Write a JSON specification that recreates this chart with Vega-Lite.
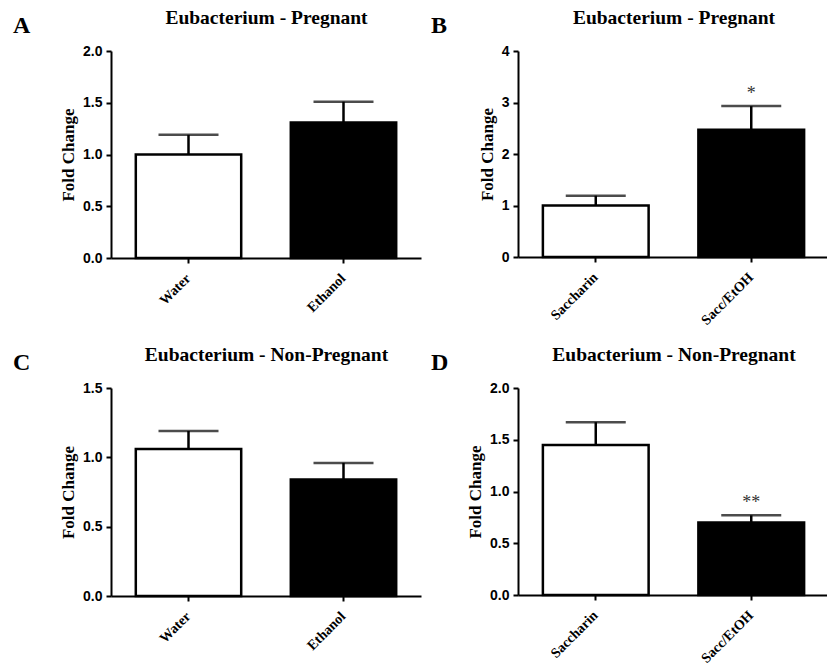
{
  "$schema": "https://vega.github.io/schema/vega-lite/v6.json",
  "background": "white",
  "padding": {"left": 13, "top": 7, "right": 0, "bottom": 0},
  "bounds": "flush",
  "columns": 2,
  "spacing": {"row": 130, "column": 97},
  "datasets": {
    "d": [
      {"panel": "A", "group": "Water", "cond": "control", "value": 1.00, "upper": 1.19, "sig": ""},
      {"panel": "A", "group": "Ethanol", "cond": "treatment", "value": 1.31, "upper": 1.51, "sig": ""},
      {"panel": "B", "group": "Saccharin", "cond": "control", "value": 1.00, "upper": 1.19, "sig": ""},
      {"panel": "B", "group": "Sacc/EtOH", "cond": "treatment", "value": 2.47, "upper": 2.93, "sig": "*"},
      {"panel": "C", "group": "Water", "cond": "control", "value": 1.06, "upper": 1.19, "sig": ""},
      {"panel": "C", "group": "Ethanol", "cond": "treatment", "value": 0.84, "upper": 0.96, "sig": ""},
      {"panel": "D", "group": "Saccharin", "cond": "control", "value": 1.45, "upper": 1.67, "sig": ""},
      {"panel": "D", "group": "Sacc/EtOH", "cond": "treatment", "value": 0.70, "upper": 0.77, "sig": "**"}
    ]
  },
  "config": {
    "view": {"stroke": null},
    "title": {"font": "Liberation Serif", "fontSize": 24, "fontWeight": "bold", "color": "black", "offset": 0, "anchor": "start", "frame": "group", "baseline": "alphabetic", "dy": 35},
    "axis": {
      "domainColor": "black", "domainWidth": 2, "tickColor": "black", "tickWidth": 2, "tickSize": 5,
      "grid": false, "labelColor": "black", "titleColor": "black"
    },
    "axisY": {
      "labelFont": "Liberation Sans", "labelFontSize": 14, "labelFontWeight": "bold", "labelPadding": 4,
      "titleFont": "Liberation Serif", "titleFontSize": 17, "titleFontWeight": "bold", "titlePadding": 5
    },
    "axisX": {
      "labelFont": "Liberation Serif", "labelFontSize": 14, "labelFontWeight": "bold", "labelAngle": -45,
      "labelAlign": "right", "labelBaseline": "middle", "labelPadding": 13,
      "titleFont": "Liberation Serif", "titleFontSize": 19.5, "titleFontWeight": "bold", "titlePadding": 24
    }
  },
  "concat": [
    {
      "width": 310, "height": 207,
      "title": {"text": "A", "dx": -98},
      "data": {"name": "d"},
      "transform": [{"filter": "datum.panel === 'A'"}],
      "resolve": {"axis": {"x": "independent"}},
      "layer": [
        {"mark": {"type": "bar", "stroke": "black", "strokeWidth": 2.5},
         "encoding": {
           "x": {"field": "group", "type": "nominal", "sort": null, "scale": {"paddingInner": 0.32, "paddingOuter": 0.16}, "axis": {"title": null}},
           "y": {"field": "value", "type": "quantitative", "scale": {"domain": [0, 2], "nice": false}, "axis": {"values": [0, 0.5, 1, 1.5, 2], "format": ".1f", "title": "Fold Change"}},
           "fill": {"field": "cond", "type": "nominal", "scale": {"domain": ["control", "treatment"], "range": ["white", "black"]}, "legend": null}}},
        {"mark": {"type": "rule", "strokeWidth": 2.5, "color": "black"},
         "encoding": {"x": {"field": "group", "type": "nominal", "sort": null, "axis": null}, "y": {"field": "value", "type": "quantitative"}, "y2": {"field": "upper"}}},
        {"mark": {"type": "tick", "size": 60, "thickness": 2.5, "color": "black"},
         "encoding": {"x": {"field": "group", "type": "nominal", "sort": null, "axis": {"orient": "top", "title": "Eubacterium - Pregnant", "labels": false, "ticks": false, "domain": false}}, "y": {"field": "upper", "type": "quantitative"}}},
        {"mark": {"type": "text", "font": "Liberation Serif", "fontSize": 18, "color": "#333", "baseline": "alphabetic", "dy": -7},
         "encoding": {"x": {"field": "group", "type": "nominal", "sort": null, "axis": null}, "y": {"field": "upper", "type": "quantitative"}, "text": {"field": "sig"}}}
      ]
    },
    {
      "width": 311, "height": 206,
      "title": {"text": "B", "dx": -87},
      "data": {"name": "d"},
      "transform": [{"filter": "datum.panel === 'B'"}],
      "resolve": {"axis": {"x": "independent"}},
      "layer": [
        {"mark": {"type": "bar", "stroke": "black", "strokeWidth": 2.5},
         "encoding": {
           "x": {"field": "group", "type": "nominal", "sort": null, "scale": {"paddingInner": 0.32, "paddingOuter": 0.16}, "axis": {"title": null}},
           "y": {"field": "value", "type": "quantitative", "scale": {"domain": [0, 4], "nice": false}, "axis": {"values": [0, 1, 2, 3, 4], "format": "d", "title": "Fold Change"}},
           "fill": {"field": "cond", "type": "nominal", "scale": {"domain": ["control", "treatment"], "range": ["white", "black"]}, "legend": null}}},
        {"mark": {"type": "rule", "strokeWidth": 2.5, "color": "black"},
         "encoding": {"x": {"field": "group", "type": "nominal", "sort": null, "axis": null}, "y": {"field": "value", "type": "quantitative"}, "y2": {"field": "upper"}}},
        {"mark": {"type": "tick", "size": 60, "thickness": 2.5, "color": "black"},
         "encoding": {"x": {"field": "group", "type": "nominal", "sort": null, "axis": {"orient": "top", "title": "Eubacterium - Pregnant", "labels": false, "ticks": false, "domain": false}}, "y": {"field": "upper", "type": "quantitative"}}},
        {"mark": {"type": "text", "font": "Liberation Serif", "fontSize": 18, "color": "#333", "baseline": "alphabetic", "dy": -7},
         "encoding": {"x": {"field": "group", "type": "nominal", "sort": null, "axis": null}, "y": {"field": "upper", "type": "quantitative"}, "text": {"field": "sig"}}}
      ]
    },
    {
      "width": 310, "height": 208,
      "title": {"text": "C", "dx": -98},
      "data": {"name": "d"},
      "transform": [{"filter": "datum.panel === 'C'"}],
      "resolve": {"axis": {"x": "independent"}},
      "layer": [
        {"mark": {"type": "bar", "stroke": "black", "strokeWidth": 2.5},
         "encoding": {
           "x": {"field": "group", "type": "nominal", "sort": null, "scale": {"paddingInner": 0.32, "paddingOuter": 0.16}, "axis": {"title": null}},
           "y": {"field": "value", "type": "quantitative", "scale": {"domain": [0, 1.5], "nice": false}, "axis": {"values": [0, 0.5, 1, 1.5], "format": ".1f", "title": "Fold Change"}},
           "fill": {"field": "cond", "type": "nominal", "scale": {"domain": ["control", "treatment"], "range": ["white", "black"]}, "legend": null}}},
        {"mark": {"type": "rule", "strokeWidth": 2.5, "color": "black"},
         "encoding": {"x": {"field": "group", "type": "nominal", "sort": null, "axis": null}, "y": {"field": "value", "type": "quantitative"}, "y2": {"field": "upper"}}},
        {"mark": {"type": "tick", "size": 60, "thickness": 2.5, "color": "black"},
         "encoding": {"x": {"field": "group", "type": "nominal", "sort": null, "axis": {"orient": "top", "title": "Eubacterium - Non-Pregnant", "labels": false, "ticks": false, "domain": false}}, "y": {"field": "upper", "type": "quantitative"}}},
        {"mark": {"type": "text", "font": "Liberation Serif", "fontSize": 18, "color": "#333", "baseline": "alphabetic", "dy": -7},
         "encoding": {"x": {"field": "group", "type": "nominal", "sort": null, "axis": null}, "y": {"field": "upper", "type": "quantitative"}, "text": {"field": "sig"}}}
      ]
    },
    {
      "width": 311, "height": 207,
      "title": {"text": "D", "dx": -87},
      "data": {"name": "d"},
      "transform": [{"filter": "datum.panel === 'D'"}],
      "resolve": {"axis": {"x": "independent"}},
      "layer": [
        {"mark": {"type": "bar", "stroke": "black", "strokeWidth": 2.5},
         "encoding": {
           "x": {"field": "group", "type": "nominal", "sort": null, "scale": {"paddingInner": 0.32, "paddingOuter": 0.16}, "axis": {"title": null}},
           "y": {"field": "value", "type": "quantitative", "scale": {"domain": [0, 2], "nice": false}, "axis": {"values": [0, 0.5, 1, 1.5, 2], "format": ".1f", "title": "Fold Change"}},
           "fill": {"field": "cond", "type": "nominal", "scale": {"domain": ["control", "treatment"], "range": ["white", "black"]}, "legend": null}}},
        {"mark": {"type": "rule", "strokeWidth": 2.5, "color": "black"},
         "encoding": {"x": {"field": "group", "type": "nominal", "sort": null, "axis": null}, "y": {"field": "value", "type": "quantitative"}, "y2": {"field": "upper"}}},
        {"mark": {"type": "tick", "size": 60, "thickness": 2.5, "color": "black"},
         "encoding": {"x": {"field": "group", "type": "nominal", "sort": null, "axis": {"orient": "top", "title": "Eubacterium - Non-Pregnant", "labels": false, "ticks": false, "domain": false}}, "y": {"field": "upper", "type": "quantitative"}}},
        {"mark": {"type": "text", "font": "Liberation Serif", "fontSize": 18, "color": "#333", "baseline": "alphabetic", "dy": -7},
         "encoding": {"x": {"field": "group", "type": "nominal", "sort": null, "axis": null}, "y": {"field": "upper", "type": "quantitative"}, "text": {"field": "sig"}}}
      ]
    }
  ]
}
